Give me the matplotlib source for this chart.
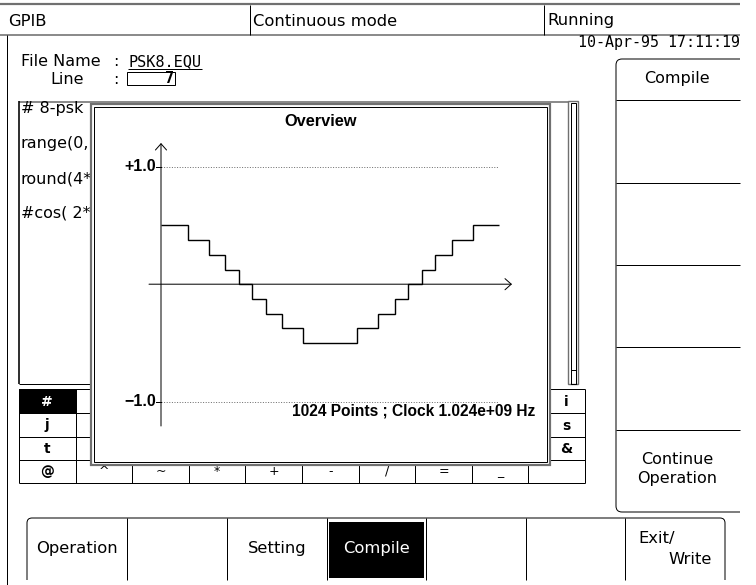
"""Waveform editor screen: compile page with the overview of an 8-PSK table."""

import matplotlib
matplotlib.use('Agg')
import matplotlib.pyplot as plt
from matplotlib.patches import Rectangle, PathPatch
from matplotlib.path import Path

W, H = 756, 585
PX = 72 / 100  # one screen pixel in points

# step waveform: sample index of each edge and the level held between edges
step_edges = [0, 81, 144, 195, 235, 276, 317, 366, 430,
              594, 658, 707, 748, 789, 829, 880, 943, 1024]
step_levels = [0.5, 0.375, 0.25, 0.125, 0.0, -0.125, -0.25, -0.375, -0.5,
               -0.375, -0.25, -0.125, 0.0, 0.125, 0.25, 0.375, 0.5]
n_points = 1024
clock_hz = 1.024e9
full_scale = [1.0, -1.0]

status_items = ['GPIB', 'Continuous mode', 'Running']
timestamp = '10-Apr-95 17:11:19'
file_name = 'PSK8.EQU'
line_no = 7
code_lines = ['# 8-psk', 'range(0,', 'round(4*', '#cos( 2*']
key_first_col = ['#', 'j', 't', '@']
key_last_col = ['i', 's', '&']
key_bottom_row = ['@', '^', '~', '*', '+', '-', '/', '=', '_', '']
side_keys = ['Compile', '', '', '', '', 'Continue\nOperation']
tab_labels = ['Operation', '', 'Setting', 'Compile', '', '', 'Exit/\nWrite']

UI_FONT = 'DejaVu Sans'
BOLD_FONT = 'Liberation Sans'
MONO = 'DejaVu Sans Mono'
GRAY = '#707070'

fig = plt.figure(figsize=(W / 100, H / 100), dpi=100)
ui = fig.add_axes([0, 0, 1, 1])
ui.set_xlim(0, W)
ui.set_ylim(H, 0)
ui.axis('off')


def hline(y, x0, x1, color='black', lw=1.0, z=2):
    ui.plot([x0, x1], [y, y], color=color, lw=lw * PX, zorder=z,
            solid_capstyle='butt')


def vline(x, y0, y1, color='black', lw=1.0, z=2):
    ui.plot([x, x], [y0, y1], color=color, lw=lw * PX, zorder=z,
            solid_capstyle='butt')


def rect(x0, y0, x1, y1, edge='black', face='none', lw=1.0, z=2):
    ui.add_patch(Rectangle((x0, y0), x1 - x0, y1 - y0, edgecolor=edge,
                           facecolor=face, lw=lw * PX, zorder=z))


def outline(points, codes, lw=1.0, z=2):
    ui.add_patch(PathPatch(Path(points, codes), facecolor='none',
                           edgecolor='black', lw=lw * PX, zorder=z))


# status bar
hline(4, 0, 740, color=GRAY, lw=2.2)
hline(35, 0, 740, color=GRAY, lw=1.6)
vline(250, 5, 35)
vline(544, 5, 35)
for x, label in zip([8, 253, 547], status_items):
    ui.text(x, 21, label, ha='left', va='center', fontsize=11.8,
            family=UI_FONT)
ui.text(740, 43, timestamp, ha='right', va='center', fontsize=10.8,
        family=MONO)
vline(7, 35, 585)

# file name / line fields
ui.text(21, 62, 'File Name', ha='left', va='center', fontsize=11.5,
        family=UI_FONT)
ui.text(116, 62, ':', ha='center', va='center', fontsize=11.5, family=UI_FONT)
ui.text(128, 62, file_name, ha='left', va='center', fontsize=11, family=MONO)
hline(68.5, 128, 202)
ui.text(84, 79, 'Line', ha='right', va='center', fontsize=11.5,
        family=UI_FONT)
ui.text(116, 79, ':', ha='center', va='center', fontsize=11.5, family=UI_FONT)
rect(127, 72, 175, 85)
ui.text(174, 78.5, str(line_no), ha='right', va='center', fontsize=11,
        family=MONO, weight='bold')

# program listing with scroll bar
hline(101.5, 19, 568, color=GRAY, lw=1.6)
vline(19, 101, 384, lw=1.6)
hline(384, 19, 91)
rect(568, 101, 578, 384, edge=GRAY, lw=1.4)
rect(570.5, 103, 575.5, 384, lw=1)
rect(570.5, 370, 575.5, 384, lw=1)
for i, txt in enumerate(code_lines):
    ui.text(21, 109 + i * 34.8, txt, ha='left', va='center', fontsize=11.5,
            family=UI_FONT, zorder=3)

# character keyboard
col_x = [19 + 56.6 * k for k in range(11)]
row_y = [389, 413, 437, 460, 483]
ui.add_patch(Rectangle((col_x[0], row_y[0]), col_x[1] - col_x[0],
                       row_y[1] - row_y[0], facecolor='black',
                       edgecolor='black', lw=PX, zorder=2))
for y in row_y:
    hline(y, col_x[0], col_x[-1])
for x in col_x:
    vline(x, row_y[0], row_y[-1])
for r, ch in enumerate(key_first_col):
    ui.text((col_x[0] + col_x[1]) / 2, (row_y[r] + row_y[r + 1]) / 2 + 0.5, ch,
            ha='center', va='center', fontsize=10, family='DejaVu Sans',
            weight='bold', color='white' if r == 0 else 'black', zorder=3)
for r, ch in enumerate(key_last_col):
    ui.text(566, (row_y[r] + row_y[r + 1]) / 2 + 0.5, ch, ha='center',
            va='center', fontsize=10, family='DejaVu Sans', weight='bold',
            zorder=3)
for c, ch in enumerate(key_bottom_row[1:], start=1):
    ui.text((col_x[c] + col_x[c + 1]) / 2, (row_y[3] + row_y[4]) / 2, ch,
            ha='center', va='center', fontsize=9, family='DejaVu Sans',
            zorder=3)

# soft keys on the right
outline([(740, 59), (622, 59), (616, 59), (616, 65), (616, 506),
         (616, 512), (622, 512), (740, 512)],
        [Path.MOVETO, Path.LINETO, Path.CURVE3, Path.CURVE3, Path.LINETO,
         Path.CURVE3, Path.CURVE3, Path.LINETO])
side_y = [59, 100, 182.7, 265, 347.3, 430, 512]
for y in side_y[1:-1]:
    hline(y, 616, 740)
for k, label in enumerate(side_keys):
    if label:
        yc = 78 if k == 0 else 469
        ui.text(677, yc, label, ha='center', va='center', fontsize=11.5,
                family=UI_FONT, linespacing=1.35)

# tab bar at the bottom
outline([(27, 580), (27, 523), (27, 518), (32, 518), (720, 518),
         (725, 518), (725, 523), (725, 580)],
        [Path.MOVETO, Path.LINETO, Path.CURVE3, Path.CURVE3, Path.LINETO,
         Path.CURVE3, Path.CURVE3, Path.LINETO])
tab_x = [27, 127, 227, 327, 425.7, 525.7, 624.7, 725]
for x in tab_x[1:-1]:
    vline(x, 518, 580)
ui.add_patch(Rectangle((328.5, 521.7), 95, 56.3, facecolor='black',
                       edgecolor='none', zorder=2))
for k, label in enumerate(tab_labels):
    xc = (tab_x[k] + tab_x[k + 1]) / 2
    if '\n' in label:
        top, bottom = label.split('\n')
        ui.text(638, 538, top, ha='left', va='center', fontsize=11.8,
                family=UI_FONT)
        ui.text(712, 560, bottom, ha='right', va='center', fontsize=11.8,
                family=UI_FONT)
    elif label:
        ui.text(xc, 548, label, ha='center', va='center', fontsize=11.8,
                family=UI_FONT, color='white' if k == 3 else 'black',
                zorder=3)

# overview pop-up window
rect(91, 104, 550, 465, edge=GRAY, face='white', lw=2.2, z=5)
rect(94, 107, 547, 462, edge='black', face='none', lw=1, z=6)
ui.text(321, 121, 'Overview', ha='center', va='center', fontsize=11.8,
        family=BOLD_FONT, weight='bold', zorder=7)

# waveform plot: samples 0..1024 span px 161..499.3, +/-1 span px 166.7..401.7
x0_px, x1_px = 161.0, 499.3
ytop_px, ybot_px = 166.7, 401.7
zero_px = (ytop_px + ybot_px) / 2
ax = fig.add_axes([x0_px / W, 1 - ybot_px / H, (x1_px - x0_px) / W,
                   (ybot_px - ytop_px) / H])
ax.set_xlim(0, n_points)
ax.set_ylim(-1, 1)
ax.axis('off')
sx = n_points / (x1_px - x0_px)     # samples per pixel
sy = 2.0 / (ybot_px - ytop_px)      # amplitude per pixel

ax.stairs(step_levels, step_edges, baseline=None, color='black',
          lw=1.4 * PX, clip_on=False)

for lvl in full_scale:
    ax.plot([0, n_points], [lvl, lvl], color=GRAY, lw=1.0 * PX,
            linestyle=(0, (1, 1.6)), clip_on=False)
    ax.plot([-5 * sx, 0], [lvl, lvl], color='black', lw=1.0 * PX,
            clip_on=False)
    ax.text(-5 * sx, lvl, ('+' if lvl > 0 else '\u2212') + f'{abs(lvl):.1f}',
            ha='right', va='center', fontsize=11.5, family=BOLD_FONT,
            weight='bold', clip_on=False)

# axes with open arrow heads
arrow = dict(arrowstyle='->,head_length=0.45,head_width=0.4', lw=1.0 * PX,
             color='black', shrinkA=0, shrinkB=0, mutation_scale=10)
ax.annotate('', xy=(0, (zero_px - 143) * sy), xytext=(0, (zero_px - 426) * sy),
            arrowprops=arrow, annotation_clip=False)
ax.annotate('', xy=((512 - x0_px) * sx, 0), xytext=((149 - x0_px) * sx, 0),
            arrowprops=arrow, annotation_clip=False)

ax.text((535 - x0_px) * sx, (zero_px - 411) * sy,
        f'{n_points} Points ; Clock {clock_hz:.3e} Hz',
        ha='right', va='center', fontsize=11.2, family=BOLD_FONT, weight='bold',
        clip_on=False)

fig.savefig('out.png', dpi=100)
